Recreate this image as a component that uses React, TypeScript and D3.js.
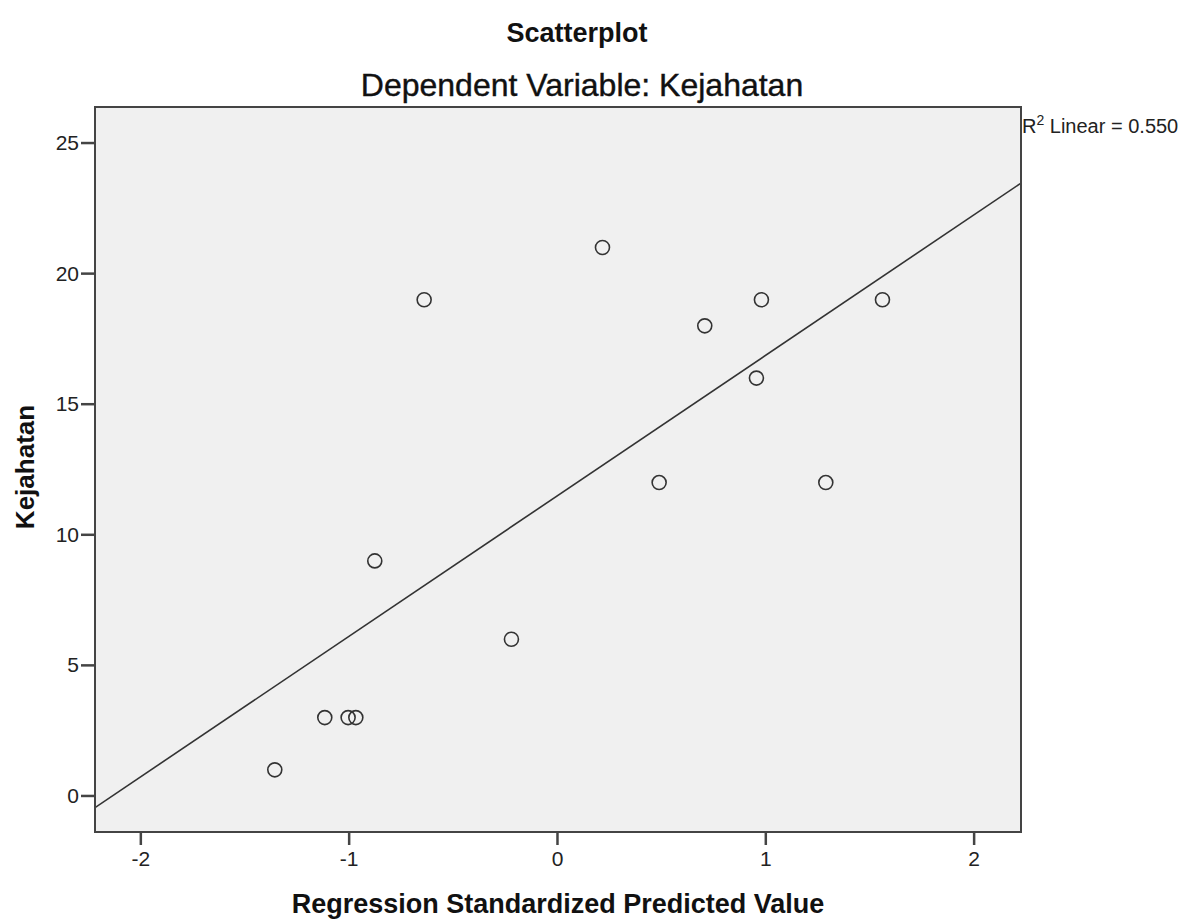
import React from "react";
import * as d3 from "d3";

// standardized predicted value vs Kejahatan
const predicted = [
  -1.357, -1.117, -1.005, -0.968, -0.877, -0.64, -0.221, 0.216, 0.488, 0.707,
  0.955, 0.979, 1.288, 1.56,
];
const kejahatan = [1, 3, 3, 3, 9, 19, 6, 21, 12, 18, 16, 19, 12, 19];
const xTicks = [-2, -1, 0, 1, 2];
const yTicks = [0, 5, 10, 15, 20, 25];

const width = 1204;
const height = 920;
const plot = { left: 95, right: 1021, top: 107, bottom: 832 };
const font = "'Liberation Sans', Arial, sans-serif";
const ink = "#333";

const App = () => {
  const x = d3.scaleLinear().domain([-2.22, 2.225]).range([plot.left, plot.right]);
  const y = d3.scaleLinear().domain([-1.38, 26.38]).range([plot.bottom, plot.top]);

  // least squares fit line
  const mx = d3.mean(predicted) as number;
  const my = d3.mean(kejahatan) as number;
  let sxy = 0;
  let sxx = 0;
  predicted.forEach((v, i) => {
    sxy += (v - mx) * (kejahatan[i] - my);
    sxx += (v - mx) * (v - mx);
  });
  const slope = sxy / sxx;
  const icpt = my - slope * mx;
  const [x0, x1] = x.domain();
  const fitLine = d3
    .line<number>()
    .x((d) => x(d))
    .y((d) => y(icpt + slope * d));

  return (
    <svg
      width={width}
      height={height}
      style={{ position: "absolute", left: 0, top: 0, background: "#fff" }}
      fontFamily={font}
    >
      <defs>
        <clipPath id="plotClip">
          <rect x={plot.left} y={plot.top} width={plot.right - plot.left} height={plot.bottom - plot.top} />
        </clipPath>
      </defs>
      <text x={577} y={42} textAnchor="middle" fontSize={27} fontWeight="bold" fill="#111">
        Scatterplot
      </text>
      <text x={582} y={96} textAnchor="middle" fontSize={32} fill="#111" stroke="#111" strokeWidth={0.4}>
        Dependent Variable: Kejahatan
      </text>

      <rect
        x={plot.left}
        y={plot.top}
        width={plot.right - plot.left}
        height={plot.bottom - plot.top}
        fill="#f0f0f0"
      />

      <g clipPath="url(#plotClip)">
        <path d={fitLine([x0, x1]) as string} fill="none" stroke={ink} strokeWidth={1.6} />
      </g>

      {predicted.map((v, i) => (
        <circle key={i} cx={x(v)} cy={y(kejahatan[i])} r={7} fill="none" stroke={ink} strokeWidth={1.6} />
      ))}

      <rect
        x={plot.left}
        y={plot.top}
        width={plot.right - plot.left}
        height={plot.bottom - plot.top}
        fill="none"
        stroke="#444"
        strokeWidth={2}
      />

      {yTicks.map((t) => (
        <g key={t}>
          <line x1={plot.left - 14} x2={plot.left} y1={y(t)} y2={y(t)} stroke="#444" strokeWidth={2.5} />
          <text x={plot.left - 16} y={y(t) + 7} textAnchor="end" fontSize={21} fill="#222">
            {t}
          </text>
        </g>
      ))}
      {xTicks.map((t) => (
        <g key={t}>
          <line x1={x(t)} x2={x(t)} y1={plot.bottom} y2={plot.bottom + 13} stroke="#444" strokeWidth={2.5} />
          <text x={x(t)} y={plot.bottom + 34} textAnchor="middle" fontSize={21} fill="#222">
            {t}
          </text>
        </g>
      ))}

      <text x={558} y={913} textAnchor="middle" fontSize={27} fontWeight="bold" fill="#111">
        Regression Standardized Predicted Value
      </text>
      <text
        transform={`translate(34,467) rotate(-90)`}
        textAnchor="middle"
        fontSize={26}
        fontWeight="bold"
        fill="#111"
      >
        Kejahatan
      </text>

      <text x={plot.right + 1} y={133} fontSize={20} fill="#222">
        R<tspan dy={-8} fontSize={14}>2</tspan>
        <tspan dy={8}> Linear = 0.550</tspan>
      </text>
    </svg>
  );
};

export default App;
